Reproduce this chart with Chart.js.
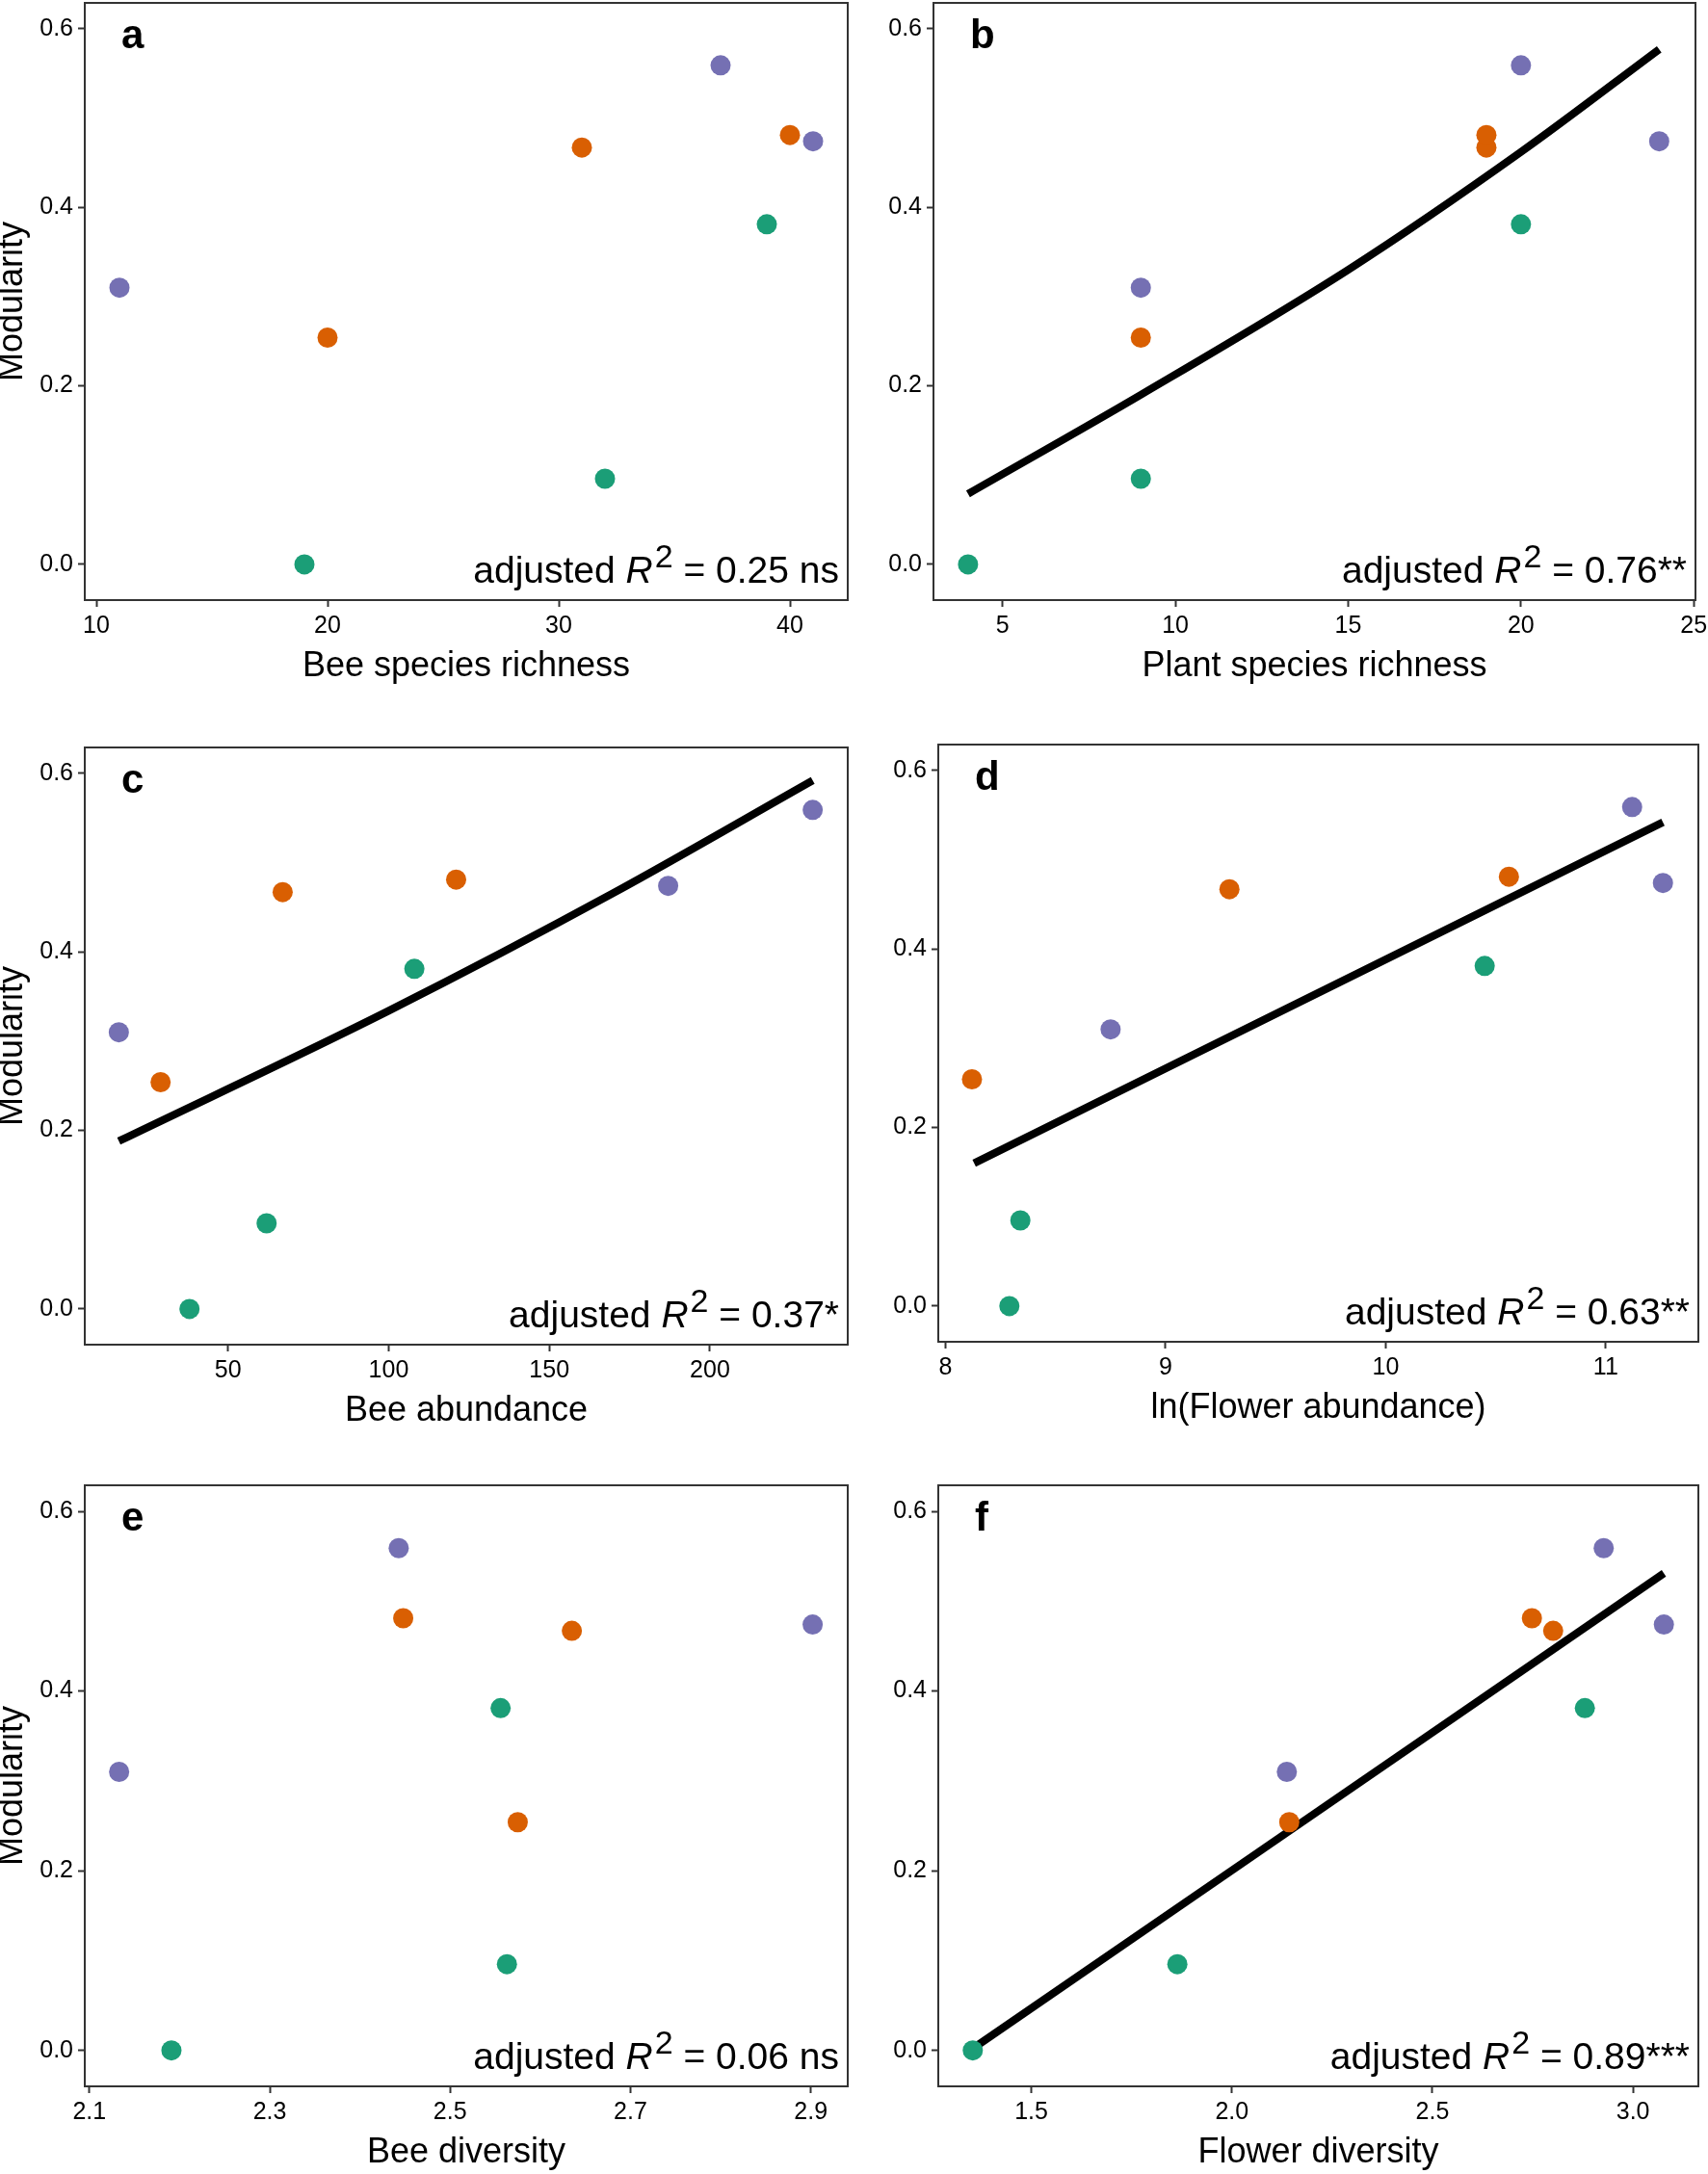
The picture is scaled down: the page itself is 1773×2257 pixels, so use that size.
<!DOCTYPE html>
<html>
<head>
<meta charset="utf-8">
<title>Modularity of plant–bee networks</title>
<script src="https://cdn.jsdelivr.net/npm/chart.js@4.4.1/dist/chart.umd.min.js"></script>
<style>
  html, body { margin: 0; padding: 0; background: #fff; }
  body { position: relative; width: 1773px; height: 2257px; overflow: hidden; }
  canvas { position: absolute; }
</style>
</head>
<body>
<canvas id="panel-a"></canvas>
<canvas id="panel-b"></canvas>
<canvas id="panel-c"></canvas>
<canvas id="panel-d"></canvas>
<canvas id="panel-e"></canvas>
<canvas id="panel-f"></canvas>
<script>
// Modularity vs. bee / flower variables — six scatter panels

const FONT = "'Liberation Sans', Arial, Helvetica, sans-serif";
const GROUP_COLORS = { green: '#1b9e77', orange: '#d95f02', purple: '#7570b3' };

// ── Data ───────────────────────────────────────────────
// nine networks, same order in every array below
const siteGroup = ['green', 'green', 'green', 'orange', 'orange', 'orange', 'purple', 'purple', 'purple'];
const modularity = [0.000, 0.096, 0.381, 0.254, 0.467, 0.481, 0.310, 0.474, 0.559];

const beeRichness = [19, 32, 39, 20, 31, 40, 11, 41, 37];
const plantRichness = [4, 9, 20, 9, 19, 19, 9, 24, 20];
const beeAbundance = [38, 62, 108, 29, 67, 121, 16, 187, 232];
const lnFlowerAbundance = [8.29, 8.34, 10.45, 8.12, 9.29, 10.56, 8.75, 11.26, 11.12];
const beeDiversity = [2.191, 2.563, 2.556, 2.575, 2.635, 2.448, 2.133, 2.902, 2.443];
const flowerDiversity = [1.354, 1.864, 2.880, 2.143, 2.801, 2.748, 2.137, 3.077, 2.927];

// fitted curves
const plantFitX = [4, 9, 15, 20, 24];
const plantFitY = [0.079, 0.190, 0.330, 0.462, 0.577];
const beeAbundFitX = [16, 100, 170, 232];
const beeAbundFitY = [0.188, 0.334, 0.466, 0.592];
const lnFlowerFitX = [8.13, 11.26];
const lnFlowerFitY = [0.160, 0.542];
const flowerDivFitX = [1.357, 3.077];
const flowerDivFitY = [0.003, 0.531];

// axis ranges and ticks
const yRange = [-0.040, 0.629];
const yTicks = [0, 0.2, 0.4, 0.6];
const yTickLabels = ['0.0', '0.2', '0.4', '0.6'];

const beeRichnessRange = [9.5, 42.5];
const beeRichnessTicks = [10, 20, 30, 40];
const beeRichnessLabels = ['10', '20', '30', '40'];
const plantRichnessRange = [3, 25.05];
const plantRichnessTicks = [5, 10, 15, 20, 25];
const plantRichnessLabels = ['5', '10', '15', '20', '25'];
const beeAbundanceRange = [5.4, 242.9];
const beeAbundanceTicks = [50, 100, 150, 200];
const beeAbundanceLabels = ['50', '100', '150', '200'];
const lnFlowerRange = [7.967, 11.421];
const lnFlowerTicks = [8, 9, 10, 11];
const lnFlowerLabels = ['8', '9', '10', '11'];
const beeDiversityRange = [2.0949, 2.9409];
const beeDiversityTicks = [2.1, 2.3, 2.5, 2.7, 2.9];
const beeDiversityLabels = ['2.1', '2.3', '2.5', '2.7', '2.9'];
const flowerDiversityRange = [1.268, 3.163];
const flowerDiversityTicks = [1.5, 2.0, 2.5, 3.0];
const flowerDiversityLabels = ['1.5', '2.0', '2.5', '3.0'];

// ── Layout (page px) ───────────────────────────────────
// box: plot panel [left, top, right, bottom]; canvas: [left, top, width, height]
const PANELS = [
  { id: 'panel-a', letter: 'a', x: beeRichness, range: beeRichnessRange, ticks: beeRichnessTicks, labels: beeRichnessLabels,
    title: 'Bee species richness', r2: '0.25', sig: ' ns', fit: null,
    box: [88, 3, 880, 623], canvas: [-10, -20, 916, 765], yTitle: true },
  { id: 'panel-b', letter: 'b', x: plantRichness, range: plantRichnessRange, ticks: plantRichnessTicks, labels: plantRichnessLabels,
    title: 'Plant species richness', r2: '0.76', sig: '**', fit: [plantFitX, plantFitY],
    box: [969, 3, 1760, 623], canvas: [886, -20, 900, 765], yTitle: false },
  { id: 'panel-c', letter: 'c', x: beeAbundance, range: beeAbundanceRange, ticks: beeAbundanceTicks, labels: beeAbundanceLabels,
    title: 'Bee abundance', r2: '0.37', sig: '*', fit: [beeAbundFitX, beeAbundFitY],
    box: [88, 776, 880, 1396], canvas: [-10, 745, 916, 755], yTitle: true },
  { id: 'panel-d', letter: 'd', x: lnFlowerAbundance, range: lnFlowerRange, ticks: lnFlowerTicks, labels: lnFlowerLabels,
    title: 'ln(Flower abundance)', r2: '0.63', sig: '**', fit: [lnFlowerFitX, lnFlowerFitY],
    box: [974, 773, 1763, 1393], canvas: [886, 745, 900, 755], yTitle: false },
  { id: 'panel-e', letter: 'e', x: beeDiversity, range: beeDiversityRange, ticks: beeDiversityTicks, labels: beeDiversityLabels,
    title: 'Bee diversity', r2: '0.06', sig: ' ns', fit: null,
    box: [88, 1542, 880, 2166], canvas: [-10, 1500, 916, 780], yTitle: true },
  { id: 'panel-f', letter: 'f', x: flowerDiversity, range: flowerDiversityRange, ticks: flowerDiversityTicks, labels: flowerDiversityLabels,
    title: 'Flower diversity', r2: '0.89', sig: '***', fit: [flowerDivFitX, flowerDivFitY],
    box: [974, 1542, 1763, 2166], canvas: [886, 1500, 900, 780], yTitle: false },
];

// ── Plugin: panel border, letter and adjusted R² label ──

const panelDecor = {
  id: 'panelDecor',
  afterDatasetsDraw(chart, args, opts) {
    const { ctx, chartArea: a } = chart;
    ctx.save();
    ctx.strokeStyle = '#333333';
    ctx.lineWidth = 2;
    ctx.strokeRect(a.left, a.top, a.right - a.left, a.bottom - a.top);

    ctx.fillStyle = '#000';
    ctx.textBaseline = 'alphabetic';
    ctx.textAlign = 'left';
    ctx.font = `bold 42px ${FONT}`;
    ctx.fillText(opts.letter, a.left + 38, a.top + 47);

    const parts = [
      { text: 'adjusted ', font: `39px ${FONT}`, dy: 0, gap: 0 },
      { text: 'R', font: `italic 39px ${FONT}`, dy: 0, gap: 2 },
      { text: '2', font: `34px ${FONT}`, dy: -16, gap: 0 },
      { text: ` = ${opts.r2}${opts.sig}`, font: `39px ${FONT}`, dy: 0, gap: 0 },
    ];
    let total = 0;
    parts.forEach(p => { ctx.font = p.font; p.w = ctx.measureText(p.text).width + p.gap; total += p.w; });
    let x = a.right - 9 - total;
    const base = a.bottom - 18;
    parts.forEach(p => { ctx.font = p.font; ctx.fillText(p.text, x, base + p.dy); x += p.w; });
    ctx.restore();
  },
};

// ── Charts ─────────────────────────────────────────────

const tickGrid = {
  drawOnChartArea: false, drawTicks: true,
  tickLength: 7, tickWidth: 2, tickColor: '#333333',
};

PANELS.forEach(p => {
  const el = document.getElementById(p.id);
  const [cl, ct, cw, ch] = p.canvas;
  const [bl, bt, br, bb] = p.box;
  el.width = cw; el.height = ch;
  Object.assign(el.style, { left: cl + 'px', top: ct + 'px', width: cw + 'px', height: ch + 'px' });

  const yAxisWidth = bl - cl;
  const xAxisHeight = ct + ch - bb;

  const datasets = ['green', 'orange', 'purple'].map(g => ({
    type: 'scatter',
    data: p.x.map((x, i) => ({ x, y: modularity[i], g: siteGroup[i] })).filter(d => d.g === g),
    backgroundColor: GROUP_COLORS[g],
    borderColor: GROUP_COLORS[g],
    borderWidth: 0,
    pointRadius: 10.5,
    order: 0,
  }));

  if (p.fit) {
    const [fx, fy] = p.fit;
    datasets.push({
      type: 'line',
      data: fx.map((x, i) => ({ x, y: fy[i] })),
      borderColor: '#000',
      borderWidth: 8,
      borderCapStyle: 'butt',
      pointRadius: 0,
      fill: false,
      showLine: true,
      cubicInterpolationMode: 'monotone',
      order: 1,
    });
  }

  new Chart(el, {
    type: 'scatter',
    data: { datasets },
    plugins: [panelDecor],
    options: {
      responsive: false,
      maintainAspectRatio: false,
      animation: false,
      events: [],
      layout: { padding: { left: 0, top: bt - ct, right: cl + cw - br, bottom: 0 } },
      plugins: {
        legend: { display: false },
        tooltip: { enabled: false },
        panelDecor: { letter: p.letter, r2: p.r2, sig: p.sig },
      },
      scales: {
        x: {
          type: 'linear',
          min: p.range[0], max: p.range[1],
          afterBuildTicks: s => { s.ticks = p.ticks.map(v => ({ value: v })); },
          afterFit: s => { s.height = xAxisHeight; },
          ticks: {
            callback: (v, i) => p.labels[i],
            font: { family: FONT, size: 25 }, color: '#000',
            padding: 5, maxRotation: 0, autoSkip: false,
          },
          grid: tickGrid,
          border: { display: false },
          title: {
            display: true, text: p.title, color: '#000',
            font: { family: FONT, size: 36 },
            padding: { top: 0, bottom: xAxisHeight - 21.6 - 69.5 },
          },
        },
        y: {
          type: 'linear',
          min: yRange[0], max: yRange[1],
          afterBuildTicks: s => { s.ticks = yTicks.map(v => ({ value: v })); },
          afterFit: s => { s.width = yAxisWidth; },
          ticks: {
            callback: (v, i) => yTickLabels[i],
            font: { family: FONT, size: 25 }, color: '#000',
            padding: 5, autoSkip: false,
          },
          grid: tickGrid,
          border: { display: false },
          title: {
            display: p.yTitle, text: 'Modularity', color: '#000',
            font: { family: FONT, size: 36 },
            padding: { top: 13 - cl - 21.6, bottom: 0 },
          },
        },
      },
    },
  });
});
</script>
</body>
</html>
